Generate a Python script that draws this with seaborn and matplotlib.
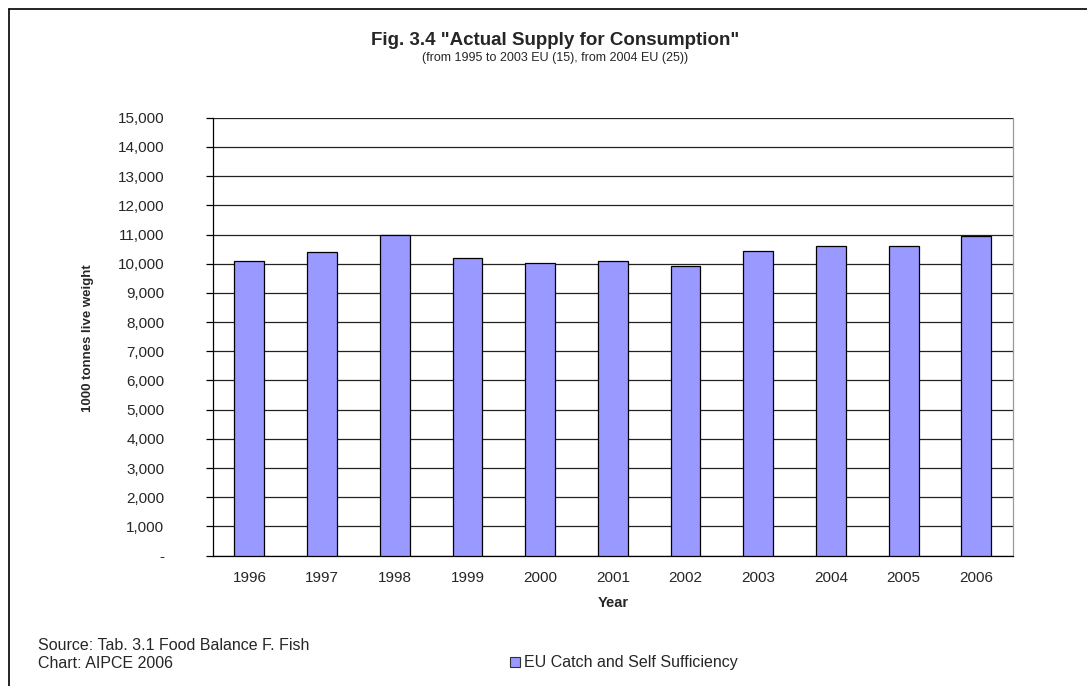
import pandas as pd
import numpy as np
import matplotlib
matplotlib.use('Agg')
import matplotlib.pyplot as plt
from matplotlib.ticker import FuncFormatter, MultipleLocator, FixedLocator
from matplotlib.lines import Line2D
from matplotlib.patches import Patch
import seaborn as sns

# Chart data
years = ['1996', '1997', '1998', '1999', '2000', '2001', '2002', '2003', '2004', '2005', '2006']
supply = [10100, 10390, 11000, 10205, 10025, 10080, 9910, 10425, 10595, 10595, 10950]
series_name = 'EU Catch and Self Sufficiency'

df = pd.DataFrame({'Year': years, 'Supply': supply})

sns.set_style('white')
plt.rcParams['font.family'] = ['Liberation Sans', 'DejaVu Sans']

fig = plt.figure(figsize=(10.87, 6.86), dpi=100)
ax = fig.add_axes([0.196, 0.19, 0.7356, 0.6384])

sns.barplot(x='Year', y='Supply', data=df, color='#9999FF', edgecolor='black',
            linewidth=0.9, width=0.41, saturation=1, ax=ax, zorder=3)

ax.set_ylim(0, 15000)
ax.set_xlim(-0.5, len(years) - 0.5)
ax.yaxis.set_major_locator(MultipleLocator(1000))
ax.yaxis.set_major_formatter(FuncFormatter(lambda v, p: '-' if v == 0 else f'{int(v):,}'))
ax.grid(axis='y', color='#222222', linewidth=0.9, zorder=0)
ax.set_axisbelow(True)

# ticks between categories on the x axis
ax.xaxis.set_minor_locator(FixedLocator(np.arange(-0.5, len(years), 1.0)))
ax.tick_params(axis='x', which='major', length=0, pad=11, labelsize=11)
ax.tick_params(axis='x', which='minor', length=5, width=0.9, color='black', direction='out')
ax.tick_params(axis='y', which='major', length=5, width=0.9, color='black', direction='out',
               labelsize=11, pad=30, left=True)

for s in ['left', 'bottom']:
    ax.spines[s].set_color('black')
    ax.spines[s].set_linewidth(0.9)
ax.spines['right'].set_color('#999999')
ax.spines['right'].set_linewidth(0.9)
ax.spines['top'].set_visible(False)

ax.set_xlabel('Year', fontsize=10.5, fontweight='bold', labelpad=8)
ax.set_ylabel('1000 tonnes live weight', fontsize=9.5, fontweight='bold')
ax.yaxis.label.set_verticalalignment('center')
ax.yaxis.set_label_coords(-0.156, 0.497)

fig.text(0.5106, 1 - 45 / 686, 'Fig. 3.4 "Actual Supply for Consumption"', ha='center', va='baseline',
         fontsize=13.5, fontweight='bold')
fig.text(0.5106, 1 - 61 / 686, '(from 1995 to 2003 EU (15), from 2004 EU (25))', ha='center',
         va='baseline', fontsize=9)

fig.text(0.035, 1 - 650 / 686, 'Source: Tab. 3.1 Food Balance F. Fish', ha='left', va='baseline',
         fontsize=11.5)
fig.text(0.035, 1 - 668 / 686, 'Chart: AIPCE 2006', ha='left', va='baseline', fontsize=11.5)

handle = Patch(facecolor='#9999FF', edgecolor='#333333', linewidth=0.8, label=series_name)
fig.legend(handles=[handle], loc='center left', bbox_to_anchor=(510 / 1087, 1 - 663 / 686),
           frameon=False, fontsize=11.5, handlelength=0.6, handleheight=0.6, handletextpad=0.3,
           borderpad=0, borderaxespad=0)

# outer chart frame (only left and top edges are visible in the reference)
fig.add_artist(Line2D([9 / 1087, 9 / 1087], [0, 1 - 9 / 686], transform=fig.transFigure,
                      color='black', linewidth=1.2))
fig.add_artist(Line2D([9 / 1087, 1], [1 - 9 / 686, 1 - 9 / 686], transform=fig.transFigure,
                      color='black', linewidth=1.2))

fig.savefig('out.png', dpi=100, facecolor='white')
